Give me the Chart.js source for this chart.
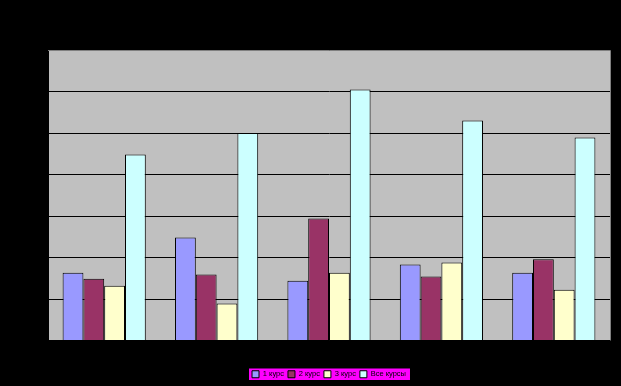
<!DOCTYPE html>
<html>
<head>
<meta charset="utf-8">
<script src="https://cdn.jsdelivr.net/npm/chart.js@4"></script>
<style>
  html, body { margin: 0; padding: 0; background: #000000; }
  #wrap { width: 621px; height: 386px; }
</style>
</head>
<body>
<div id="wrap"><canvas id="courseChart"></canvas></div>
<script>
var groups = ["1", "2", "3", "4", "5"];
var course1 = [16.3, 24.8, 14.4, 18.3, 16.3];
var course2 = [14.9, 15.9, 29.4, 15.4, 19.6];
var course3 = [13.2, 8.9, 16.3, 18.8, 12.2];
var allCourses = [44.8, 50, 60.5, 53, 48.9];
var seriesNames = ["1 курс", "2 курс", "3 курс", "Все курсы"];
var yTicks = [0, 10, 20, 30, 40, 50, 60, 70];

const plotBack = {
  id: 'plotBack',
  afterLayout: (chart) => {
    // push the legend a little lower, like the original
    if (chart.legend) {
      chart.legend.top += 3;
      chart.legend.bottom += 3;
    }
  },
  beforeDraw: (chart) => {
    const {ctx, chartArea} = chart;
    ctx.save();
    ctx.fillStyle = '#C0C0C0';
    ctx.fillRect(chartArea.left, chartArea.top, chartArea.right - chartArea.left, chartArea.bottom - chartArea.top);
    // magenta box behind the legend
    var boxes = chart.legend && chart.legend.legendHitBoxes;
    if (boxes && boxes.length) {
      var minX = Math.min(...boxes.map(b => b.left));
      var maxX = Math.max(...boxes.map(b => b.left + b.width));
      var minY = Math.min(...boxes.map(b => b.top));
      var maxY = Math.max(...boxes.map(b => b.top + b.height));
      ctx.fillStyle = '#FF00FF';
      ctx.fillRect(minX - 3, minY - 2, maxX - minX + 7, maxY - minY + 4);
    }
    ctx.restore();
  },
  afterDraw: (chart) => {
    const {ctx, chartArea} = chart;
    ctx.save();
    ctx.strokeStyle = '#808080';
    ctx.lineWidth = 1;
    ctx.beginPath();
    ctx.moveTo(chartArea.left, chartArea.top + 0.5);
    ctx.lineTo(chartArea.right + 0.5, chartArea.top + 0.5);
    ctx.lineTo(chartArea.right + 0.5, chartArea.bottom);
    ctx.stroke();
    ctx.restore();
  }
};

function ds(label, data, color) {
  return {
    label: label,
    data: data,
    backgroundColor: color,
    borderColor: '#000000',
    borderWidth: 1,
    borderSkipped: 'bottom',
    categoryPercentage: 0.74,
    barPercentage: 1.0
  };
}

new Chart(document.getElementById("courseChart"), {
  type: "bar",
  data: {
    labels: groups,
    datasets: [
      ds(seriesNames[0], course1, '#9999FF'),
      ds(seriesNames[1], course2, '#993366'),
      ds(seriesNames[2], course3, '#FFFFCC'),
      ds(seriesNames[3], allCourses, '#CCFFFF')
    ]
  },
  options: {
    responsive: true,
    maintainAspectRatio: false,
    animation: false,
    layout: { padding: { left: 48, right: 11, top: 50, bottom: 1 } },
    plugins: {
      tooltip: { enabled: false },
      legend: {
        position: 'bottom',
        labels: {
          color: '#000000',
          font: { family: "Arial, 'Liberation Sans', sans-serif", size: 7.5 },
          boxWidth: 7,
          boxHeight: 7,
          padding: 4,
          useBorderRadius: false
        }
      }
    },
    scales: {
      x: {
        grid: { display: false, drawTicks: false },
        border: { color: '#000000', width: 1 },
        ticks: { display: false },
        afterFit: (scale) => { scale.height = 23; }
      },
      y: {
        min: 0,
        max: 70,
        afterBuildTicks: (scale) => { scale.ticks = yTicks.map(v => ({ value: v })); },
        grid: { color: '#000000', lineWidth: 1, drawTicks: false },
        border: { color: '#000000', width: 1 },
        ticks: { display: false }
      }
    }
  },
  plugins: [plotBack]
});
</script>
</body>
</html>
